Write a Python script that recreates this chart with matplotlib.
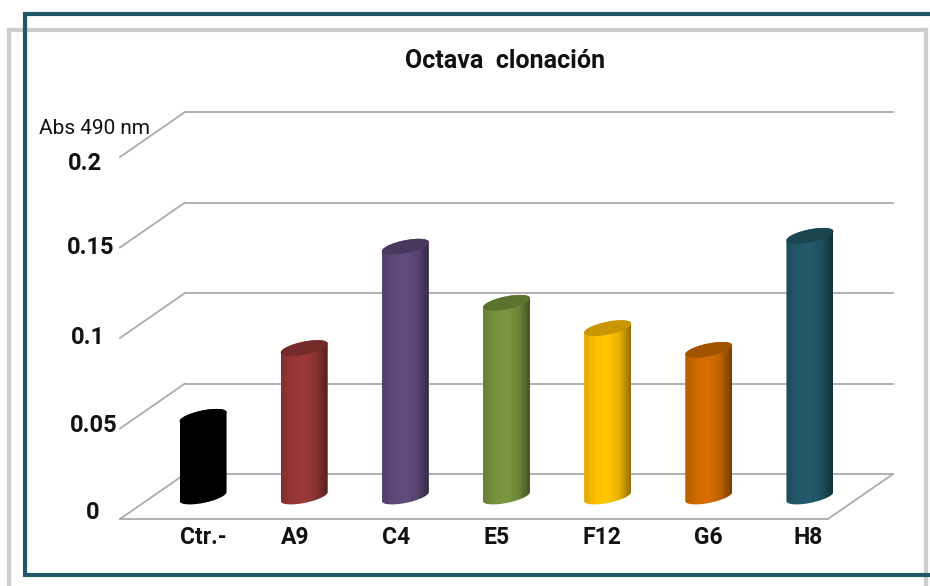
import numpy as np
import matplotlib
matplotlib.use("Agg")
import matplotlib.pyplot as plt
from matplotlib.colors import LinearSegmentedColormap, to_rgb
from matplotlib.lines import Line2D
from matplotlib.patches import PathPatch
from matplotlib.path import Path
from matplotlib.transforms import Affine2D, IdentityTransform

categories = ["Ctr.-", "A9", "C4", "E5", "F12", "G6", "H8"]
values = [0.044, 0.082, 0.138, 0.107, 0.093, 0.081, 0.144]
colors = ["#000000", "#953735", "#5f497a", "#76923c", "#ffc000", "#cf6a00", "#215868"]
y_ticks = [0, 0.05, 0.1, 0.15, 0.2]
y_labels = ["0", "0.05", "0.1", "0.15", "0.2"]
title = "Octava  clonación"
y_title = "Abs 490 nm"

W, H = 930, 586
plt.rcParams["font.family"] = ["Roboto", "Liberation Sans", "DejaVu Sans"]
fig = plt.figure(figsize=(W / 100, H / 100), dpi=100, facecolor="white")

# plot front plane, pixel box
L, R, B, T = 120, 828, 519, 157
ax = fig.add_axes([L / W, 1 - B / H, (R - L) / W, (B - T) / H])
ax.patch.set_alpha(0)
for s in ax.spines.values():
    s.set_visible(False)
ax.set_xlim(-0.5, 6.5)
ax.set_ylim(0, 0.2)
ax.set_xticks(range(len(categories)))
ax.set_xticklabels(categories, fontsize=16.5, fontweight="bold", color="#111111")
ax.set_yticks(y_ticks)
ax.set_yticklabels(y_labels, fontsize=17, fontweight="bold", color="#111111", ha="center")
ax.tick_params(length=0, pad=0)

DX, DY = 65, 45
GRID = "#ababab"


def disp(x, y):
    return ax.transData.transform((x, y))


# per-label nudges in pixels to follow the hand-placed labels of the original
xnudge = [33, 23, 23, 23, 27, 32, 31]
for lab, dx in zip(ax.get_xticklabels(), xnudge):
    lab.set_transform(lab.get_transform() + Affine2D().translate(dx, -7))
ynudge = {0: (-27, -9), 0.05: (-26, -5), 0.1: (-32, -3), 0.15: (-29, -3), 0.2: (-35, 4)}
for lab, t in zip(ax.get_yticklabels(), y_ticks):
    lab.set_transform(lab.get_transform() + Affine2D().translate(ynudge[t][0], -ynudge[t][1]))


def line(p, q):
    ax.add_line(Line2D([p[0], q[0]], [p[1], q[1]], transform=IdentityTransform(),
                       color=GRID, lw=1.3, clip_on=False))


for t in y_ticks:
    a = disp(-0.5, t)
    b = disp(6.5, t)
    off = np.array([DX, DY])
    line(a, a + off)
    line(a + off, b + off)
front0, front1 = disp(-0.5, 0), disp(6.5, 0)
line(front0, front1)
line(front1, front1 + np.array([DX, DY]))

# bars
halfw = 23.5
A, C = 4.5, 6.5
tt = np.linspace(0, 2 * np.pi, 73)


def ellipse(cx, cy):
    return np.column_stack([cx + halfw * np.cos(tt), cy + A * np.cos(tt) + C * np.sin(tt)])


for i, (v, col) in enumerate(zip(values, colors)):
    base = disp(i, 0) + np.array([DX / 2, DY / 2])
    top = disp(i, v) + np.array([DX / 2, DY / 2])
    cx = base[0]
    te = ellipse(cx, top[1])
    lower = tt[(tt >= np.pi) & (tt <= 2 * np.pi)]
    upper = tt[tt <= np.pi]
    bot_curve = np.column_stack([cx + halfw * np.cos(lower),
                                 base[1] + A * np.cos(lower) + C * np.sin(lower)])
    top_curve = np.column_stack([cx + halfw * np.cos(upper),
                                 top[1] + A * np.cos(upper) + C * np.sin(upper)])
    body = np.vstack([bot_curve, top_curve, bot_curve[:1]])
    patch = PathPatch(Path(body), transform=IdentityTransform(), facecolor="none", edgecolor="none")
    ax.add_patch(patch)
    rgb = np.array(to_rgb(col))
    cmap = LinearSegmentedColormap.from_list(
        "c", [rgb * 0.88, rgb * 1.0, np.minimum(rgb * 1.04, 1), rgb * 0.92, rgb * 0.58], N=128)
    im = ax.imshow(np.linspace(0, 1, 128)[None, :], cmap=cmap, aspect="auto", zorder=3,
                   extent=[cx - halfw, cx + halfw, base[1] - 12, top[1] + 12])
    im.set_transform(IdentityTransform())
    im.set_clip_box(fig.bbox)
    im.set_clip_path(patch)
    cap = PathPatch(Path(te), transform=IdentityTransform(), facecolor=rgb * 0.78,
                    edgecolor="none", zorder=4, clip_on=False)
    ax.add_patch(cap)
ax.set_xlim(-0.5, 6.5)
ax.set_ylim(0, 0.2)


def fx(x):
    return x / W


def fy(y):
    return 1 - y / H


# outer frames drawn in figure coordinates
gray = "#cccccc"
for xs, ys in [((9, 9), (30, 586)), ((9, 926), (30, 30)), ((926, 926), (30, 586))]:
    fig.add_artist(Line2D([fx(x) for x in xs], [fy(y) for y in ys], color=gray, lw=3, zorder=5))
teal = "#215868"
for xs, ys in [((25, 25), (12, 577)), ((24, 930), (13.5, 13.5)), ((24, 930), (575, 575))]:
    fig.add_artist(Line2D([fx(x) for x in xs], [fy(y) for y in ys], color=teal, lw=3,
                          zorder=6, solid_capstyle="butt"))

fig.text(fx(505), fy(61), title, fontsize=18, fontweight="bold", ha="center", va="center", color="#111111")
fig.text(fx(94), fy(128), y_title, fontsize=15, ha="center", va="center", color="#111111")

fig.savefig("out.png", dpi=100, facecolor="white")
